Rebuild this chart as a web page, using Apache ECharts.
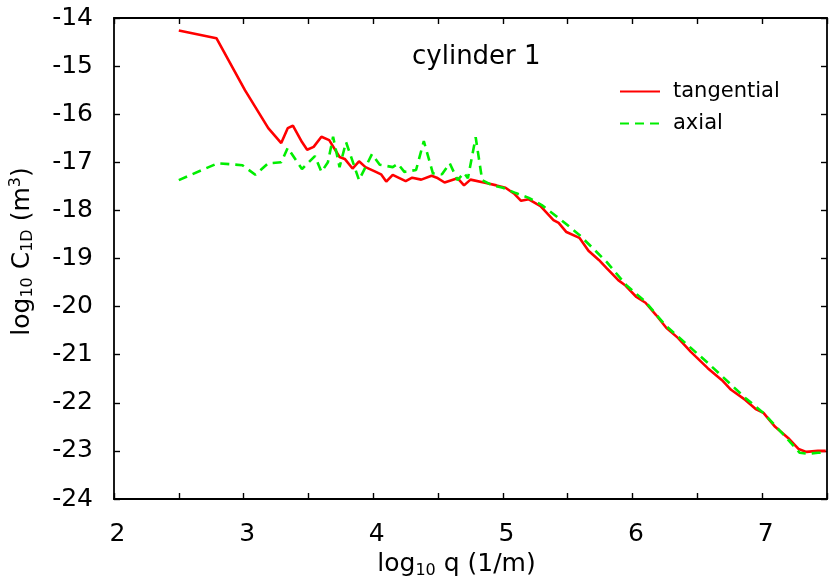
<!DOCTYPE html>
<html><head><meta charset="utf-8">
<script src="https://cdn.jsdelivr.net/npm/echarts@6/dist/echarts.min.js"></script>
<style>html,body{margin:0;padding:0;background:#fff}#c{width:830px;height:587px}</style>
</head><body><div id="c"></div>
<script>
var qTangential = [2.5,2.79,3.01,3.19,3.29,3.34,3.38,3.45,3.49,3.54,3.6,3.66,3.74,3.78,3.84,3.89,3.94,4.02,4.06,4.1,4.15,4.25,4.3,4.37,4.45,4.49,4.55,4.65,4.7,4.75,4.87,4.95,5.02,5.09,5.14,5.2,5.29,5.39,5.43,5.49,5.59,5.66,5.74,5.8,5.89,5.94,6.03,6.1,6.18,6.26,6.35,6.45,6.58,6.69,6.76,6.87,6.95,7.01,7.1,7.2,7.28,7.34,7.43,7.49];
var cTangential = [-14.26,-14.42,-15.5,-16.29,-16.6,-16.29,-16.24,-16.58,-16.74,-16.68,-16.47,-16.54,-16.89,-16.93,-17.13,-16.98,-17.1,-17.2,-17.25,-17.4,-17.26,-17.39,-17.32,-17.36,-17.28,-17.32,-17.42,-17.33,-17.48,-17.36,-17.43,-17.48,-17.53,-17.66,-17.8,-17.77,-17.91,-18.2,-18.26,-18.45,-18.57,-18.84,-19.03,-19.2,-19.45,-19.55,-19.8,-19.92,-20.17,-20.44,-20.65,-20.94,-21.28,-21.53,-21.73,-21.94,-22.13,-22.21,-22.5,-22.73,-22.96,-23.02,-23.0,-23.0];
var qAxial = [2.5,2.8,2.99,3.09,3.19,3.29,3.34,3.45,3.55,3.6,3.65,3.69,3.74,3.79,3.89,3.99,4.05,4.15,4.19,4.24,4.33,4.39,4.46,4.53,4.59,4.65,4.7,4.73,4.79,4.84,4.92,5.0,5.1,5.2,5.3,5.45,5.59,5.8,5.95,6.1,6.25,6.58,6.87,7.01,7.18,7.29,7.35,7.43,7.48];
var cAxial = [-17.37,-17.02,-17.06,-17.26,-17.02,-17.0,-16.7,-17.14,-16.87,-17.2,-17.0,-16.47,-17.1,-16.58,-17.37,-16.83,-17.05,-17.1,-17.03,-17.2,-17.16,-16.56,-17.23,-17.25,-17.02,-17.37,-17.22,-17.33,-16.48,-17.37,-17.48,-17.53,-17.64,-17.74,-17.89,-18.2,-18.51,-19.07,-19.55,-19.9,-20.38,-21.17,-21.9,-22.21,-22.71,-23.04,-23.06,-23.04,-23.04];
var xTicks = [2,3,4,5,6,7];
var yTicks = [-24,-23,-22,-21,-20,-19,-18,-17,-16,-15,-14];

function pairs(xs, ys){ return xs.map(function(x,i){return [x, ys[i]];}); }
var FONT = 'DejaVu Sans';
var axisLine = {show:true, lineStyle:{color:'#000', width:1.8}};
var tick = {show:true, inside:true, length:6, lineStyle:{color:'#000', width:1.4}};
var chart = echarts.init(document.getElementById('c'), null, {renderer:'canvas'});
chart.setOption({
  animation:false,
  backgroundColor:'#fff',
  textStyle:{fontFamily:FONT},
  title:{text:'cylinder 1', left:412, top:44, padding:0,
    textStyle:{fontFamily:FONT, fontSize:26, fontWeight:'normal', color:'#000'}},
  legend:{
    orient:'vertical', left:619, top:81, itemWidth:40, itemHeight:20, itemGap:11, padding:0,
    itemStyle:{color:'rgba(0,0,0,0)', borderColor:'rgba(0,0,0,0)', borderWidth:0, opacity:0},
    textStyle:{fontFamily:FONT, fontSize:21, lineHeight:20, color:'#000', padding:[0,0,0,8]},
    data:['tangential','axial']
  },
  grid:{left:114, right:1, top:18, bottom:88, containLabel:false},
  xAxis:[{
    type:'value', min:2, max:7.5, interval:0.5, position:'bottom',
    axisLine:axisLine, splitLine:{show:false}, axisTick:tick,
    axisLabel:{fontFamily:FONT, fontSize:25, color:'#000', margin:23, padding:[0,0,0,7],
      formatter:function(v){ return xTicks.indexOf(v) >= 0 ? String(v) : ''; }},
    name:'log{s|10} q (1/m)', nameLocation:'middle', nameGap:43,
    nameTextStyle:{fontFamily:FONT, fontSize:25, color:'#000', padding:[0,28,0,0],
      rich:{s:{fontFamily:FONT, fontSize:16, color:'#000', padding:[12,0,0,0]}}}
  },{
    type:'value', min:2, max:7.5, interval:0.5, position:'top',
    axisLine:axisLine, splitLine:{show:false}, axisTick:tick,
    axisLabel:{show:false}
  }],
  yAxis:[{
    type:'value', min:-24, max:-14, interval:1, position:'left',
    axisLine:axisLine, splitLine:{show:false}, axisTick:tick,
    axisLabel:{fontFamily:FONT, fontSize:25, color:'#000', margin:21, padding:[8,0,0,0],
      formatter:function(v){ return yTicks.indexOf(v) >= 0 ? String(v) : ''; }},
    name:'log{s|10} C{s|1D} (m{p|3})', nameLocation:'middle', nameGap:78, nameRotate:90,
    nameTextStyle:{fontFamily:FONT, fontSize:25, color:'#000', padding:[0,0,0,14],
      rich:{s:{fontFamily:FONT, fontSize:16, color:'#000', padding:[12,0,0,0]},
            p:{fontFamily:FONT, fontSize:16, color:'#000', padding:[0,0,12,0]}}}
  },{
    type:'value', min:-24, max:-14, interval:1, position:'right',
    axisLine:axisLine, splitLine:{show:false}, axisTick:tick,
    axisLabel:{show:false}
  }],
  series:[{
    name:'tangential', type:'line', xAxisIndex:0, yAxisIndex:0, symbol:'none',
    data:pairs(qTangential, cTangential),
    lineStyle:{color:'#ff0000', width:2.6}, itemStyle:{color:'#ff0000'}
  },{
    name:'axial', type:'line', xAxisIndex:0, yAxisIndex:0, symbol:'none',
    data:pairs(qAxial, cAxial),
    lineStyle:{color:'#00ee00', width:2.6, type:[9,6]}, itemStyle:{color:'#00ee00'}
  }]
});
</script></body></html>
